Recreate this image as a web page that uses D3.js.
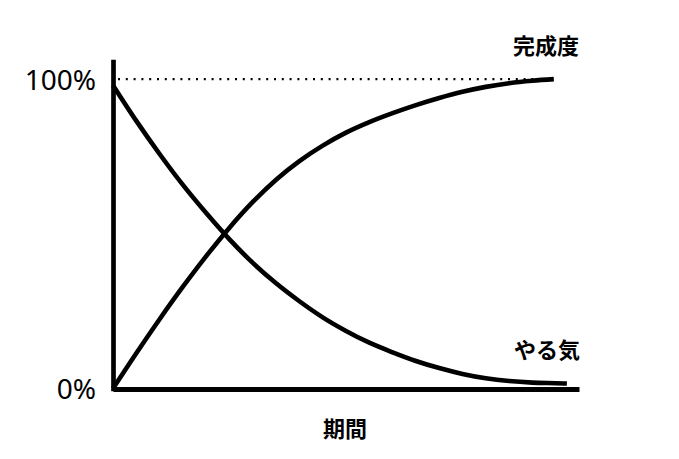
<!DOCTYPE html>
<html>
<head>
<meta charset="utf-8">
<script src="https://cdn.jsdelivr.net/npm/d3@7"></script>
<style>
  body { margin: 0; background: #fff; }
  text { font-family: "Noto Sans", "Noto Sans CJK JP", sans-serif; fill: #000; }
  .jp { font-family: "Noto Sans CJK JP", sans-serif; font-weight: 700; font-size: 22px; }
</style>
</head>
<body>
<div id="chart"></div>
<script>
// period (% of time)
var kanseiX = [0, 5, 10, 15, 20, 25, 30, 35, 40, 45, 50, 55, 60, 65, 70, 75, 80, 85, 90, 94.6];
var kansei = [0, 11.4, 22.4, 32.9, 42.8, 52.0, 60.3, 67.5, 73.5, 78.5, 82.7, 86.1, 89.0, 91.6, 93.9, 95.9, 97.5, 98.7, 99.5, 100];
var yarukiX = [0, 5, 10, 15, 20, 25, 30, 35, 40, 45, 50, 55, 60, 65, 70, 75, 80, 85, 90, 95, 97.4];
var yaruki = [98, 86.5, 75.8, 65.8, 56.7, 48.2, 40.6, 34.0, 28.2, 23.0, 18.6, 14.8, 11.7, 8.9, 6.6, 4.7, 3.3, 2.4, 1.9, 1.7, 1.6];
var yTicks = [0, 100];
var labels = {kansei: "完成度", yaruki: "やる気", xAxis: "期間"};

var width = 679, height = 459;

var x = d3.scaleLinear().domain([0, 100]).range([113, 579]);
var y = d3.scaleLinear().domain([0, 105.7]).range([388.5, 61.5]);

var svg = d3.select("#chart").append("svg")
    .attr("width", width)
    .attr("height", height);

// 100% guide
svg.append("line")
    .attr("x1", x(0) + 5).attr("x2", x(94.6))
    .attr("y1", y(100)).attr("y2", y(100))
    .style("stroke", "#000")
    .style("stroke-width", 2.2)
    .style("stroke-dasharray", "2,5.8");

var line = d3.line()
    .curve(d3.curveMonotoneX)
    .x(function(d) { return x(d[0]); })
    .y(function(d) { return y(d[1]); });

var series = [
  d3.zip(kanseiX, kansei),
  d3.zip(yarukiX, yaruki)
];

svg.selectAll("path.data").data(series).enter()
  .append("path")
    .attr("class", "data")
    .attr("d", line)
    .style("fill", "none")
    .style("stroke", "#000")
    .style("stroke-width", 4.6);

// axes
var gy = svg.append("g")
    .attr("transform", "translate(" + x(0) + ",0)")
    .call(d3.axisLeft(y).tickValues(yTicks).tickSize(0).tickPadding(17)
      .tickFormat(function(d) { return d + "%"; }));
gy.select(".domain").style("stroke-width", 4.7).style("stroke-linecap", "square");
gy.selectAll("text")
    .attr("dy", "0.36em")
    .style("font-family", "'Noto Sans', sans-serif")
    .style("font-size", "28px");

var gx = svg.append("g")
    .attr("transform", "translate(0," + (y(0) + 0.5) + ")")
    .call(d3.axisBottom(x).tickValues([]).tickSizeOuter(0));
gx.select(".domain").style("stroke-width", 5);

// labels
svg.append("text").attr("class", "jp")
    .attr("x", 513).attr("y", 54)
    .text(labels.kansei);
svg.append("text").attr("class", "jp")
    .attr("x", 514).attr("y", 358)
    .text(labels.yaruki);
svg.append("text").attr("class", "jp")
    .attr("x", 345).attr("y", 437)
    .attr("text-anchor", "middle")
    .text(labels.xAxis);
</script>
</body>
</html>
